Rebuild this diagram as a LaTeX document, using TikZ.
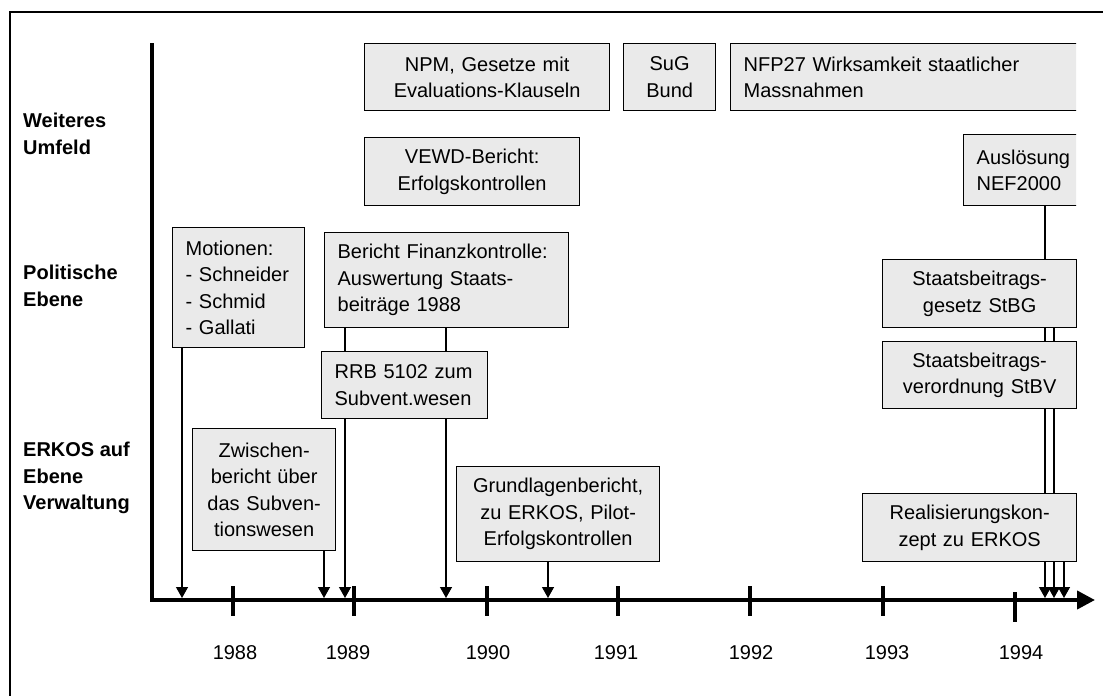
\documentclass[tikz,border=0pt]{standalone}
\usepackage{fontspec}
\setmainfont{Liberation Sans}
\usetikzlibrary{arrows.meta}
\definecolor{boxgrau}{HTML}{EAEAEA}
\tikzset{
  kasten/.style={draw, fill=boxgrau, line width=1.3pt, anchor=north west, inner xsep=13pt, inner ysep=0pt},
  linie/.style={line width=1.3pt},
  pfeil/.style={line width=1.3pt, -{Triangle[width=12pt,length=11pt]}},
  ebene/.style={anchor=north west, align=left, font=\fontsize{20}{26.5}\selectfont\bfseries, inner sep=0pt}
}

\begin{document}
\begin{tikzpicture}[x=1pt,y=-1pt,font=\fontsize{20}{26.5}\selectfont]
			\useasboundingbox (0,0) rectangle (1103,696);
			% Rahmen zeichnen
			\draw[line width=1.5pt] (10,696) -- (10,12) -- (1103,12);
			% Achsen zeichnen
			\coordinate (ursprung) at (152,600);
			\coordinate (ende) at (1095,600);
			\draw[line width=4pt,-{Triangle[width=18pt,length=18pt]}] (152,43) -- (ursprung) -- (ende);
			% Jahre
			\foreach \x in {233,354,487,618,750,883}
				\draw[line width=4pt] (\x,586) -- (\x,616);
			\draw[line width=4pt] (1015,592) -- (1015,622);
			\foreach \x/\j in {235/1988,348/1989,488/1990,616/1991,751/1992,887/1993,1021/1994}
				\node (j\j) at (\x,653) {\j};
			% Ebenen beschriften
			\node[ebene] (umfeld) at (23,113) {Weiteres\\Umfeld};
			\node[ebene] (politik) at (23,265) {Politische\\Ebene};
			\node[ebene] (verwaltung) at (23,442) {ERKOS auf\\Ebene\\Verwaltung};
			% Kaesten
			\node[kasten, text width=219pt, minimum height=67pt, align=center] (npm) at (364,43) {NPM, Gesetze mit\\Evaluations-Klauseln};
			\node[kasten, text width=66pt, minimum height=67pt, align=center] (sug) at (623,43) {SuG\\Bund};
			\node[kasten, text width=189pt, minimum height=68pt, align=center] (vewd) at (364,137) {VEWD-Bericht:\\Erfolgskontrollen};
			\begin{scope}
				\clip (0,0) rectangle (1076,696);
				\node[kasten, text width=344pt, minimum height=67pt, align=left] (nfp) at (730,43) {NFP27 Wirksamkeit staatlicher\\Massnahmen};
				\node[kasten, text width=114pt, minimum height=71pt, align=left] (ausl) at (963,134) {Auslösung\\NEF2000};
			\end{scope}
			\node[kasten, text width=106pt, minimum height=120pt, align=left] (mot) at (172,227) {Motionen:\\- Schneider\\- Schmid\\- Gallati};
			\node[kasten, text width=218pt, minimum height=95pt, align=left] (bfk) at (324,232) {Bericht Finanzkontrolle:\\Auswertung Staats-\\beiträge 1988};
			\node[kasten, text width=140pt, minimum height=67pt, align=left] (rrb) at (321,351) {RRB 5102 zum\\Subvent.wesen};
			\node[kasten, text width=117pt, minimum height=122pt, align=center] (zwi) at (192,428) {Zwischen-\\bericht über\\das Subven-\\tionswesen};
			\node[kasten, text width=177pt, minimum height=95pt, align=center] (gru) at (456,466) {Grundlagenbericht,\\zu ERKOS, Pilot-\\Erfolgskontrollen};
			\node[kasten, text width=168pt, minimum height=68pt, align=center] (stbg) at (882,259) {Staatsbeitrags-\\gesetz StBG};
			\node[kasten, text width=168pt, minimum height=67pt, align=center] (stbv) at (882,341) {Staatsbeitrags-\\verordnung StBV};
			\node[kasten, text width=188pt, minimum height=68pt, align=center] (real) at (862,493) {Realisierungskon-\\zept zu ERKOS};
			% Zeitpunkte auf der Achse
			\coordinate (e1) at (182,598);
			\coordinate (e2) at (324,598);
			\coordinate (e3) at (345,598);
			\coordinate (e4) at (446,598);
			\coordinate (e5) at (548,598);
			\coordinate (e6) at (1045,598);
			\coordinate (e7) at (1054,598);
			\coordinate (e8) at (1064,598);
			% Verbindungen zeichnen
			\draw[pfeil] (mot.south -| e1) -- (e1);
			\draw[pfeil] (zwi.south -| e2) -- (e2);
			\draw[linie] (bfk.south -| e3) -- (rrb.north -| e3);
			\draw[linie] (bfk.south -| e4) -- (rrb.north -| e4);
			\draw[pfeil] (rrb.south -| e3) -- (e3);
			\draw[pfeil] (rrb.south -| e4) -- (e4);
			\draw[pfeil] (gru.south -| e5) -- (e5);
			\draw[linie] (ausl.south -| e6) -- (stbg.north -| e6);
			\foreach \e in {e6,e7} {
				\draw[linie] (stbg.south -| \e) -- (stbv.north -| \e);
				\draw[linie] (stbv.south -| \e) -- (real.north -| \e);
			}
			\foreach \e in {e6,e7,e8}
				\draw[pfeil] (real.south -| \e) -- (\e);
		\end{tikzpicture}
\end{document}
